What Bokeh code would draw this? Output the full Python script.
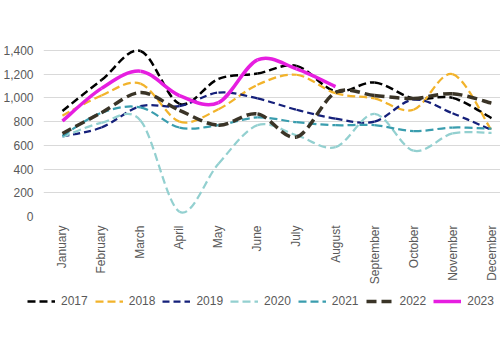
import math
from bokeh.plotting import figure
from bokeh.models import FixedTicker, Legend, LegendItem, Range1d, NumeralTickFormatter
from bokeh.embed import file_html
from bokeh.resources import INLINE

months = ["January", "February", "March", "April", "May", "June", "July",
          "August", "September", "October", "November", "December"]
years = ["2017", "2018", "2019", "2020", "2021", "2022", "2023"]

y2017 = [890, 1150, 1395, 950, 1160, 1205, 1270, 1055, 1130, 995, 1000, 830]
y2018 = [850, 1020, 1120, 800, 905, 1110, 1195, 1040, 995, 900, 1200, 725]
y2019 = [675, 750, 930, 930, 1045, 995, 900, 825, 800, 985, 870, 730]
y2020 = [670, 790, 810, 40, 445, 770, 685, 585, 865, 555, 700, 705]
y2021 = [680, 875, 920, 750, 770, 835, 795, 770, 770, 720, 750, 740]
y2022 = [700, 875, 1045, 895, 770, 865, 670, 1045, 1020, 995, 1035, 955]
y2023 = [805, 1080, 1225, 1020, 960, 1320, 1245, 1095]

y_ticks = [0, 200, 400, 600, 800, 1000, 1200, 1400]

series = [y2017, y2018, y2019, y2020, y2021, y2022, y2023]
styles = [
    dict(line_color="#000000", line_width=2.5, line_dash="8 4"),
    dict(line_color="#F2B32B", line_width=2.25, line_dash="8 4"),
    dict(line_color="#15207A", line_width=2.25, line_dash="7 4"),
    dict(line_color="#93D0D0", line_width=2.25, line_dash="8 4"),
    dict(line_color="#3A9DAE", line_width=2.25, line_dash="8 4"),
    dict(line_color="#3A3427", line_width=3.5, line_dash="10 5"),
    dict(line_color="#E61EE0", line_width=3.5, line_dash="solid"),
]

FONT = "Liberation Sans"
TXT = "#595959"

p = figure(width=500, height=290, output_backend="svg", toolbar_location=None,
           x_range=Range1d(-0.486, 11.23), y_range=Range1d(0, 1450),
           min_border_left=42, min_border_right=0, min_border_top=44,
           min_border_bottom=74)
p.outline_line_color = None
p.background_fill_color = "white"
p.border_fill_color = "white"
p.xgrid.grid_line_color = None
p.ygrid.grid_line_color = "#D9D9D9"
p.ygrid.grid_line_width = 1

p.yaxis.ticker = FixedTicker(ticks=y_ticks)
p.yaxis.formatter = NumeralTickFormatter(format="0,0")
p.xaxis.ticker = FixedTicker(ticks=list(range(len(months))))
p.xaxis.major_label_overrides = {i: m for i, m in enumerate(months)}
p.xaxis.major_label_orientation = math.pi / 2
for ax in (p.xaxis, p.yaxis):
    ax.axis_line_color = None
    ax.major_tick_line_color = None
    ax.minor_tick_line_color = None
    ax.major_tick_out = 0
    ax.major_tick_in = 0
    ax.major_label_text_font = FONT
    ax.major_label_text_font_size = "12px"
    ax.major_label_text_color = TXT
p.yaxis.major_label_standoff = 10
p.xaxis.major_label_standoff = 9


def smooth(ys):
    xs = list(range(len(ys)))
    n = len(ys)
    seg = dict(x0=[], y0=[], x1=[], y1=[], cx0=[], cy0=[], cx1=[], cy1=[])
    for i in range(n - 1):
        i0 = max(i - 1, 0)
        i3 = min(i + 2, n - 1)
        seg["x0"].append(xs[i]); seg["y0"].append(ys[i])
        seg["x1"].append(xs[i + 1]); seg["y1"].append(ys[i + 1])
        seg["cx0"].append(xs[i] + (xs[i + 1] - xs[i0]) / 6)
        seg["cy0"].append(ys[i] + (ys[i + 1] - ys[i0]) / 6)
        seg["cx1"].append(xs[i + 1] - (xs[i3] - xs[i]) / 6)
        seg["cy1"].append(ys[i + 1] - (ys[i3] - ys[i]) / 6)
    return xs, seg


# legend strip below the chart (separate root so its frame is not aligned)
pl = figure(width=500, height=60, output_backend="svg", toolbar_location=None,
            x_range=Range1d(0, 1), y_range=Range1d(0, 1),
            min_border=0, min_border_left=0, min_border_right=0,
            x_axis_location=None, y_axis_location=None)
pl.outline_line_color = None
pl.grid.grid_line_color = None
pl.background_fill_color = "white"
pl.border_fill_color = "white"

items = []
for name, ys, st in zip(years, series, styles):
    xs, seg = smooth(ys)
    p.bezier(**seg, **st)
    r = pl.line(xs, ys, visible=False, **st)
    items.append(LegendItem(label=name, renderers=[r]))

legend = Legend(items=items, orientation="horizontal", location=(27, 39),
                glyph_width=28, glyph_height=20, label_standoff=6, spacing=7,
                padding=0, margin=0, label_text_font=FONT,
                label_text_font_size="12px", label_text_color=TXT,
                border_line_color=None, background_fill_alpha=0,
                inactive_fill_alpha=0)
pl.add_layout(legend, "center")

open("out.html", "w").write(file_html([p, pl], INLINE))
